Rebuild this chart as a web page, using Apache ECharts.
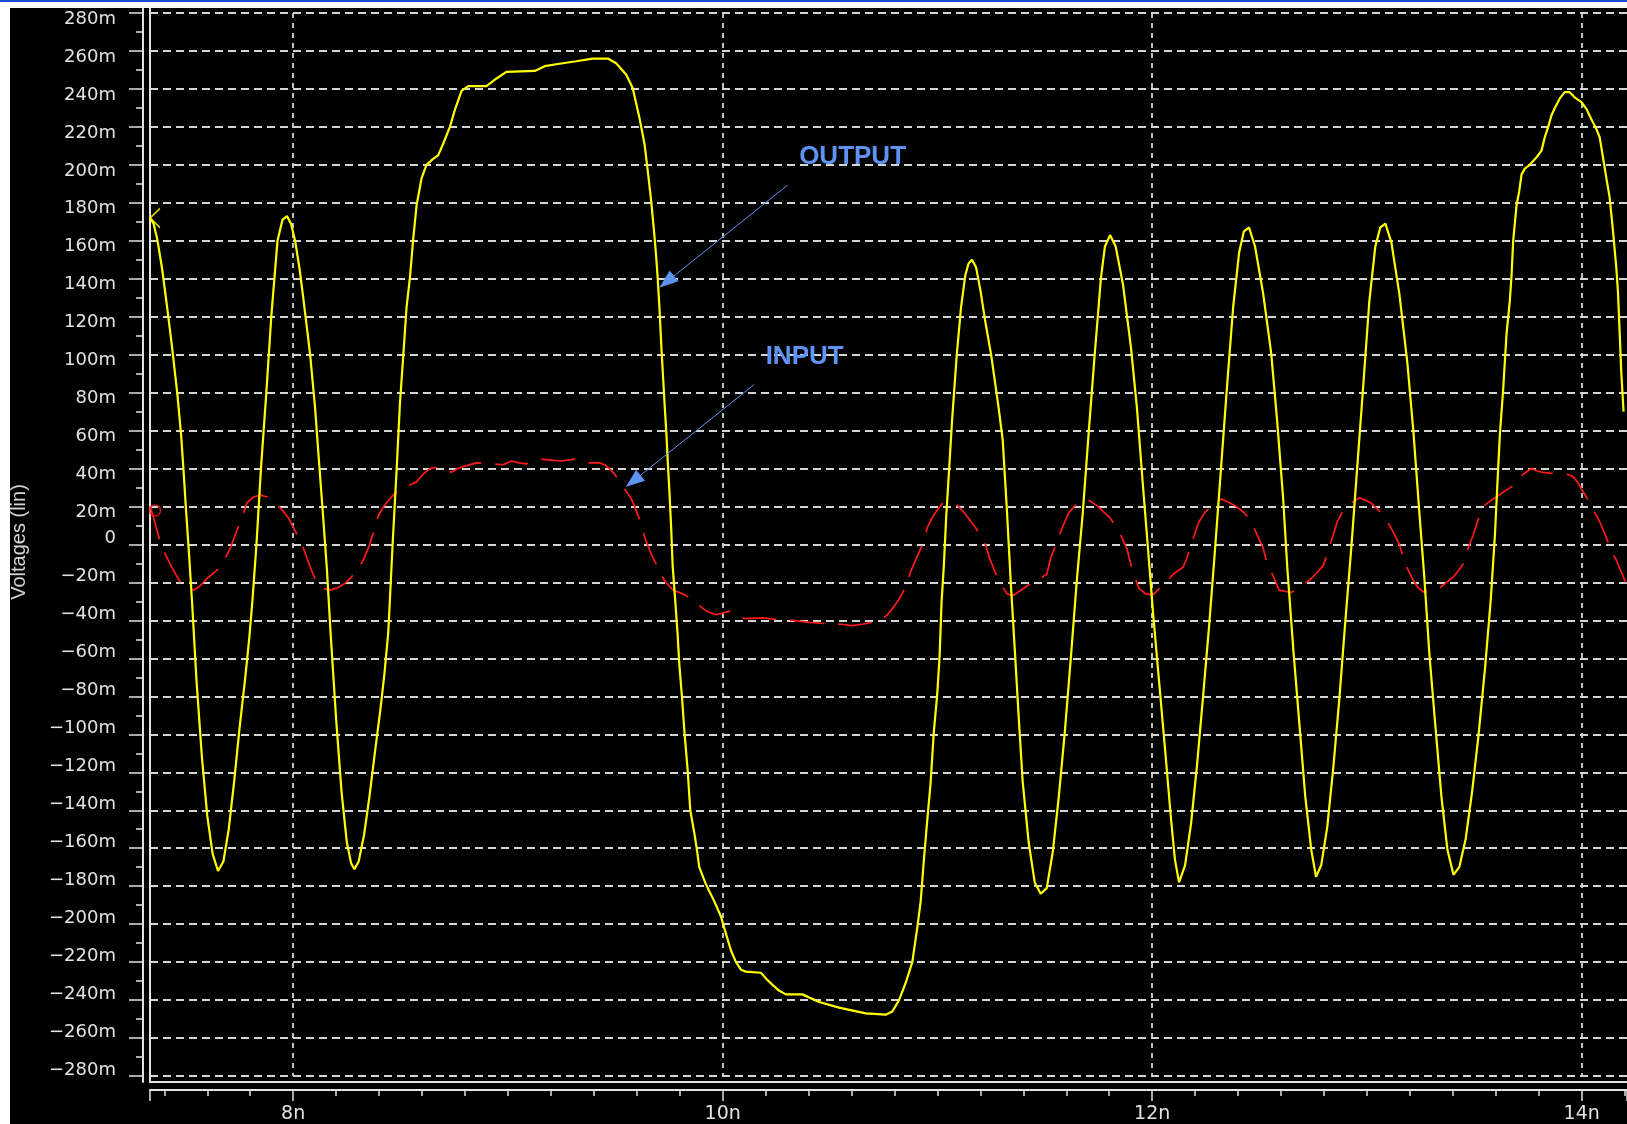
<!DOCTYPE html>
<html>
<head>
<meta charset="utf-8">
<script src="https://cdn.jsdelivr.net/npm/echarts@6/dist/echarts.min.js"></script>
<style>
html,body{margin:0;padding:0;background:#fff;width:1627px;height:1124px;overflow:hidden;position:relative}
#topbar{position:absolute;left:0;top:0;width:1627px;height:2px;background:#1d4fd8}
#chart{position:absolute;left:10px;top:8px;width:1617px;height:1116px;background:#000}
</style>
</head>
<body>
<div id="topbar"></div>
<div id="chart"></div>
<script>
// ---- axis ranges / ticks ----
const X_MIN = 7.3333, X_MAX = 14.211, X_MAJOR = 2;
const Y_MIN = -280, Y_MAX = 280, Y_STEP = 20;
const Y_NAME = 'Voltages (lin)';

// ---- OUTPUT (yellow) : time in ns, voltage in mV ----
const outT = [7.3333,7.35,7.367,7.39,7.413,7.436,7.46,7.478,7.49,7.50,7.515,7.529,7.55,7.575,7.60,7.625,7.65,7.675,7.70,7.725,7.75,7.775,7.795,7.81,7.829,7.85,7.875,7.898,7.927,7.95,7.971,7.99,8.009,8.03,8.048,8.079,8.102,8.12,8.138,8.157,8.175,8.20,8.225,8.25,8.27,8.285,8.305,8.33,8.355,8.38,8.405,8.425,8.443,8.463,8.482,8.497,8.513,8.528,8.544,8.559,8.575,8.598,8.621,8.65,8.675,8.698,8.73,8.753,8.784,8.815,8.90,8.947,8.993,9.125,9.171,9.225,9.318,9.395,9.465,9.504,9.551,9.581,9.612,9.636,9.651,9.667,9.682,9.69,9.697,9.705,9.715,9.722,9.73,9.738,9.746,9.752,9.76,9.767,9.78,9.79,9.798,9.811,9.822,9.837,9.849,9.868,9.879,9.891,9.922,9.961,9.992,10.015,10.039,10.062,10.085,10.108,10.178,10.205,10.232,10.262,10.294,10.371,10.449,10.542,10.666,10.759,10.79,10.821,10.852,10.883,10.906,10.922,10.937,10.952,10.968,10.983,10.999,11.01,11.019,11.03,11.041,11.053,11.068,11.09,11.11,11.13,11.145,11.161,11.18,11.20,11.225,11.25,11.285,11.304,11.323,11.341,11.36,11.379,11.397,11.425,11.453,11.481,11.509,11.537,11.565,11.593,11.621,11.649,11.677,11.705,11.733,11.761,11.78,11.804,11.83,11.864,11.901,11.929,11.957,11.979,12.004,12.032,12.06,12.088,12.106,12.125,12.153,12.181,12.209,12.237,12.265,12.293,12.321,12.349,12.377,12.405,12.427,12.451,12.479,12.517,12.554,12.582,12.61,12.629,12.657,12.685,12.713,12.741,12.763,12.787,12.815,12.843,12.871,12.899,12.927,12.955,12.983,13.011,13.039,13.062,13.086,13.114,13.151,13.188,13.216,13.244,13.267,13.291,13.319,13.347,13.375,13.403,13.43,13.46,13.49,13.52,13.55,13.576,13.596,13.611,13.619,13.634,13.65,13.665,13.673,13.681,13.697,13.709,13.72,13.735,13.758,13.79,13.813,13.828,13.844,13.859,13.875,13.898,13.921,13.944,13.967,13.999,14.022,14.045,14.068,14.084,14.099,14.115,14.13,14.146,14.161,14.169,14.177,14.184,14.195];
const outV = [172,169,161,145,125,104,80,58,38,20,-5,-30,-72,-112,-143,-163,-172,-167,-150,-125,-97,-72,-50,-30,0,40,80,120,160,171,173,169,160,145,129,100,72,44,17,-13,-48,-92,-130,-157,-168,-171,-167,-153,-133,-110,-88,-68,-46,0,40,74,100,125,141,161,179,193,200,203,205,211,220,229,239,241.5,241.5,245.5,249,249.5,252,253,254.6,256,256,253.5,247.5,240.5,225,211,197,181,163,152,141,126,103,89,73,58,40,28,9,-11,-31,-47,-63,-81,-99,-119,-140,-152,-160,-170,-179,-188,-196,-205,-214,-220,-224,-225,-225.6,-229,-232,-235,-237,-237,-241,-244,-247,-247.7,-246,-240,-231,-220,-202,-188,-166,-146,-126,-99,-79,-59,-31,-11,15,37,65,100,125,142,148,150,146,134,116,100,72,55,19,-19,-55,-92,-125,-157,-178,-184,-181,-162,-133,-99,-60,-19,17,60,101,140,157,163,157,137,104,72,31,0,-36,-72,-108,-145,-166,-178,-169,-147,-116,-80,-43,-2,41,84,125,154,165,167,157,132,101,65,24,-12,-55,-94,-133,-161,-175,-169,-149,-118,-82,-41,-2,41,84,128,157,167,169,159,132,96,60,17,-17,-58,-96,-133,-161,-174,-170,-155,-130,-100,-65,-30,5,40,58,81,111,128,141,160,179,186,195,198,200,204,207.5,214.5,220,226,230,235,238.3,238.3,235.6,233,229.5,224,219,214.5,204,193,183,165,146,133,111,91.5,70];

// ---- INPUT (red, dashed) : time in ns, voltage in mV ----
const inT = [7.3333,7.345,7.36,7.379,7.40,7.43,7.455,7.475,7.51,7.537,7.565,7.598,7.63,7.66,7.685,7.707,7.73,7.754,7.77,7.785,7.815,7.847,7.88,7.924,7.95,7.978,8.01,8.048,8.07,8.094,8.115,8.133,8.17,8.203,8.235,8.265,8.30,8.327,8.35,8.373,8.396,8.415,8.435,8.465,8.497,8.535,8.574,8.605,8.636,8.683,8.71,8.737,8.765,8.791,8.853,8.92,8.977,9.016,9.05,9.086,9.148,9.20,9.249,9.311,9.365,9.427,9.45,9.473,9.497,9.52,9.551,9.575,9.597,9.62,9.636,9.667,9.698,9.729,9.768,9.814,9.845,9.876,9.923,9.969,10.039,10.07,10.101,10.186,10.255,10.325,10.403,10.48,10.55,10.604,10.65,10.697,10.735,10.767,10.795,10.821,10.84,10.86,10.876,10.907,10.938,10.953,10.975,10.992,11.023,11.054,11.09,11.123,11.15,11.177,11.2,11.224,11.239,11.27,11.301,11.325,11.351,11.39,11.435,11.475,11.509,11.528,11.555,11.584,11.612,11.645,11.677,11.71,11.743,11.775,11.804,11.845,11.882,11.895,11.915,11.938,11.97,12.004,12.035,12.069,12.105,12.144,12.162,12.19,12.218,12.246,12.285,12.321,12.36,12.396,12.425,12.451,12.485,12.517,12.535,12.565,12.591,12.647,12.69,12.731,12.765,12.797,12.815,12.84,12.862,12.89,12.93,12.965,13.0,13.021,13.055,13.086,13.12,13.151,13.17,13.19,13.216,13.24,13.263,13.319,13.36,13.403,13.425,13.45,13.471,13.495,13.518,13.541,13.575,13.603,13.64,13.681,13.705,13.727,13.766,13.80,13.82,13.86,13.898,13.93,13.958,13.98,14.0,14.022,14.045,14.065,14.084,14.11,14.14,14.16,14.177,14.205];
const inV = [20,16,10,2,-4,-11,-16,-20,-23,-24,-22,-18,-15,-12,-7,-2,5,12,17,22,25,26,25,21,18,14,7,-2,-9,-16,-21,-23,-24,-23,-21,-18,-13,-8,-2,6,15,19,22,26,29,31,33,37,40,41,40,38,40,41,43,42.5,42,44,43,42.5,45,44.5,44,45,43,43,42,40,37,33,28,24,18,11,4,-5,-12,-19,-24,-26,-28,-31,-35,-37,-35,-37,-39,-38.7,-39.5,-40,-41,-41.7,-42,-42.7,-42,-41,-40,-37,-33,-29,-25,-20,-14,-6,2,9,14,17,21.6,22,21,17,13,9,5,0,-6,-15,-22,-26,-27,-24,-20.5,-18,-15.7,-7,1,9.6,16.8,21,23.6,23,20.5,17,14,7,-2,-8,-16,-23,-26,-26.5,-23,-19,-15,-12,-7,3,12,17,21,24,22,19.7,17,14,6,-2,-10,-17,-24,-25.3,-22,-19,-15,-11,-5,4,12,18,22,24.6,23,21.7,18,14,7,0,-7,-13,-19,-23,-25,-24.5,-21,-17,-14,-10,-2,5,13,20,23,25,28,31,34,37,40,38.5,38,37.5,37.3,37,36,33,29,25,19.5,16,12,5,-4,-8,-12.5,-20];

// ---- annotations (data coordinates: ns, mV) ----
const outputLabel = {text: 'OUTPUT', at: [10.356, 204]};
const outputArrow = {from: [10.302, 189.3], to: [9.739, 138.4]};
const inputLabel  = {text: 'INPUT',  at: [10.200, 99.1]};
const inputArrow  = {from: [10.147, 84.3], to: [9.583, 33.4]};

// ---- styles ----
const AX = '#e2e2e2';
const GRIDC = '#d4d4d4';
const BLUE = '#5f93f3';
const LABEL_FONT = 'DejaVu Sans';

const pairs = (ts, vs) => ts.map((t, i) => [t, vs[i]]);
const fmtV = v => {
  const r = Math.round(v);
  if (r === 0) return '0';
  return (r < 0 ? '\u2212' + (-r) : String(r)) + 'm';
};
const fmtT = v => Math.abs(v - Math.round(v)) < 1e-6 ? Math.round(v) + 'n' : '';

const chart = echarts.init(document.getElementById('chart'), null, {renderer: 'canvas'});

const option = {
  animation: false,
  backgroundColor: '#000',
  grid: [
    {left: 140, right: 0, top: 5, bottom: 48, containLabel: false, outerBoundsMode: 'none'},
    {left: 140, right: 0, top: 0, bottom: 42, containLabel: false, outerBoundsMode: 'none'}
  ],
  graphic: [
    {
      type: 'text', x: 9, y: 534, rotation: Math.PI / 2, silent: true,
      style: {text: Y_NAME, fill: '#d4d4d4', font: '20px "Liberation Sans"',
              align: 'center', verticalAlign: 'middle'}
    }
  ],
  xAxis: [
    {
      type: 'value', gridIndex: 0, position: 'bottom',
      min: X_MIN, max: X_MAX, minInterval: X_MAJOR, maxInterval: X_MAJOR,
      offset: 14,
      axisLine: {show: true, onZero: false, lineStyle: {color: AX, width: 2}},
      axisTick: {show: true, length: 11, lineStyle: {color: AX, width: 1.5}},
      minorTick: {show: true, splitNumber: 10, length: 6, lineStyle: {color: AX, width: 1.5}},
      axisLabel: {formatter: fmtT, color: AX, fontSize: 19, fontFamily: LABEL_FONT, margin: 15,
                  showMinLabel: false, showMaxLabel: false},
      splitLine: {show: true, showMinLine: false, showMaxLine: false,
                  lineStyle: {color: GRIDC, width: 1.8, type: [5, 5]}},
      minorSplitLine: {show: false}
    },
    {
      type: 'value', gridIndex: 1, position: 'bottom', min: 0, max: 1,
      axisLine: {show: true, onZero: false, lineStyle: {color: AX, width: 2}},
      axisTick: {show: false}, axisLabel: {show: false}, splitLine: {show: false}
    }
  ],
  yAxis: [
    {
      type: 'value', gridIndex: 0, position: 'left',
      min: Y_MIN, max: Y_MAX, interval: Y_STEP, offset: 7,
      axisLine: {show: false, onZero: false},
      axisTick: {show: true, length: 14, lineStyle: {color: AX, width: 1.5}},
      minorTick: {show: true, splitNumber: 2, length: 7, lineStyle: {color: AX, width: 1.5}},
      axisLabel: {formatter: v => (v > 0 ? fmtV(v) : ''), color: AX, fontSize: 18, fontFamily: LABEL_FONT,
                  margin: 27, verticalAlign: 'top', lineHeight: 12},
      splitLine: {show: true, lineStyle: {color: GRIDC, width: 2, type: [8, 5]}}
    },
    {
      type: 'value', gridIndex: 0, position: 'left',
      min: Y_MIN, max: Y_MAX, interval: Y_STEP, offset: 7,
      axisLine: {show: false, onZero: false},
      axisTick: {show: false},
      axisLabel: {formatter: v => (v <= 0 ? fmtV(v) : ''), color: AX, fontSize: 18, fontFamily: LABEL_FONT,
                  margin: 27, verticalAlign: 'bottom', lineHeight: 12},
      splitLine: {show: false}
    },
    {
      type: 'value', gridIndex: 1, position: 'left', min: 0, max: 1,
      axisLine: {show: true, onZero: false, lineStyle: {color: AX, width: 2}},
      axisTick: {show: false}, axisLabel: {show: false}, splitLine: {show: false}
    },
    {
      type: 'value', gridIndex: 1, position: 'left', min: 0, max: 1, offset: 7,
      axisLine: {show: true, onZero: false, lineStyle: {color: AX, width: 2}},
      axisTick: {show: false}, axisLabel: {show: false}, splitLine: {show: false}
    }
  ],
  series: [
    {
      name: 'INPUT', type: 'line', xAxisIndex: 0, yAxisIndex: 0,
      data: pairs(inT, inV), showSymbol: false, symbol: 'none', silent: true, z: 3,
      lineStyle: {color: '#ff1a1a', width: 1.7, type: [34, 14]}
    },
    {
      name: 'OUTPUT', type: 'line', xAxisIndex: 0, yAxisIndex: 0,
      data: pairs(outT, outV), showSymbol: false, symbol: 'none', silent: true, z: 4,
      lineStyle: {color: '#ffff00', width: 2.2}
    },
    {
      name: 'outStart', type: 'scatter', xAxisIndex: 0, yAxisIndex: 0, silent: true, z: 5,
      data: [[outT[0], outV[0]]],
      symbol: 'path://M10,0 L0,10 L10,20', symbolSize: [10, 19], symbolOffset: [5, 0],
      itemStyle: {color: 'transparent', borderColor: '#ffff00', borderWidth: 1.5},
      markLine: {
        silent: true, animation: false,
        symbol: ['none', 'triangle'], symbolSize: [14, 19],
        lineStyle: {color: BLUE, width: 1, type: 'solid'},
        itemStyle: {color: BLUE},
        label: {show: false},
        emphasis: {disabled: true},
        data: [
          [{coord: outputArrow.from}, {coord: outputArrow.to}],
          [{coord: inputArrow.from}, {coord: inputArrow.to}]
        ]
      },
      markPoint: {
        silent: true, animation: false,
        symbol: 'rect', symbolSize: 0.01,
        label: {show: true, position: 'right', distance: 0, formatter: '{b}', color: BLUE,
                fontSize: 26, fontWeight: 'bold', fontFamily: 'Liberation Sans'},
        data: [
          {name: outputLabel.text, coord: outputLabel.at},
          {name: inputLabel.text, coord: inputLabel.at}
        ]
      }
    },
    {
      name: 'inStart', type: 'scatter', xAxisIndex: 0, yAxisIndex: 0, silent: true, z: 5,
      data: [[inT[0], inV[0]]],
      symbol: 'circle', symbolSize: 11, symbolOffset: [5, 4],
      itemStyle: {color: 'transparent', borderColor: '#ff1a1a', borderWidth: 1.5}
    }
  ]
};
chart.setOption(option);
</script>
</body>
</html>
